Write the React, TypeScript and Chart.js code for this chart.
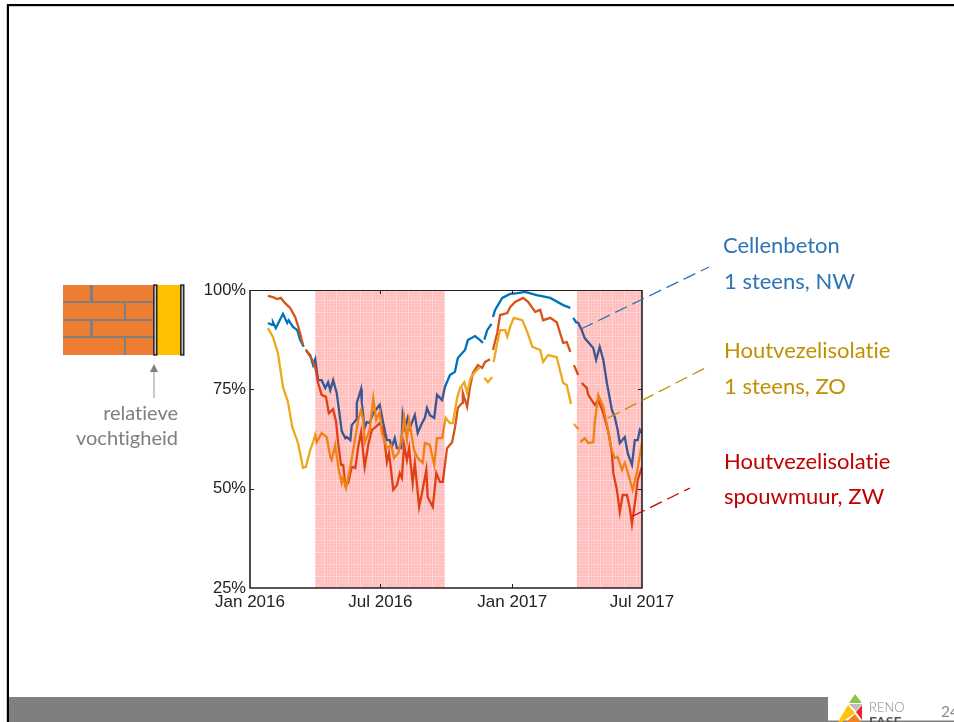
import React, { useEffect, useRef } from "react";
import { Chart, registerables } from "chart.js";

Chart.register(...registerables);

const tickDays = [0, 182, 366, 547];
const tickLabels = ["Jan 2016", "Jul 2016", "Jan 2017", "Jul 2017"];
const percentTicks = [25, 50, 75, 100];
const heatingPeriods = [[91, 272], [456, 547]];

const blueDays = [25,31,32,36,46,52,54,60,66,70,75,77,78,80,84,88,91,95,100,105,109,112,116,121,126,128,133,135,140,142,148,149,155,156,160,163,167,172,181,186,191,195,198,202,205,211,213,216,220,223,230,234,240,244,247,251,257,261,268,272,279,286,290,300,304,314,321,325,326,327,331,337,338,339,342,352,363,373,384,400,419,437,447,449,451,455,458,463,467,479,483,488,493,498,505,509,513,516,523,527,533,537,541,544,547];
const blueValues = [91.7,91.2,91.9,90.4,94,91.7,92.4,90.7,89.9,87.4,85.7,null,85,84.4,83.6,81.1,82.6,77.3,77.3,75.3,76.8,74.8,77.3,74.1,67.3,64.5,62.7,63,62.2,66,67.3,71.6,75.1,71.6,65.3,66.8,66.5,69,71.1,66.5,62.2,62.2,60.5,62.7,60.2,60.2,68.5,65.3,67.8,65.3,68.5,64,66.5,67.8,70.3,68.5,67.8,73.6,72.3,75.6,78.6,79.4,82.9,84.9,87.4,88.4,87.4,86.7,null,87.5,89.9,91.5,null,93.2,95,98,99,99.2,99.5,98.7,98,96.2,95.5,null,93,91.9,91.7,89.9,87.9,85.4,82.4,85.7,82.4,76.6,69.8,68,64.8,61.5,63,59,56,62.2,62.2,64.8,64];

const redDays = [25,32,38,43,49,56,63,68,74,77,78,81,87,91,95,100,106,110,116,120,123,127,130,133,137,142,147,151,155,158,160,165,170,174,181,186,191,194,200,205,209,212,215,219,222,227,230,236,240,246,248,255,260,265,269,275,282,286,290,296,297,303,307,311,318,324,328,335,337,339,345,349,359,363,370,381,388,398,405,409,419,428,437,442,447,449,452,458,460,463,470,472,481,486,493,500,505,507,512,516,520,526,530,533,539,541,547];
const redValues = [98.5,98.2,97.7,98,96.7,95.5,93.2,90.4,86.2,null,85,84.1,82.4,80.6,76.6,73.6,73.1,69,70,67,61.5,56,56,50.9,51.4,55.5,55.2,60.5,64.3,59,55.5,61,64.8,65.3,66.5,64.8,56.7,59,49.7,50.9,53.9,52.7,61,57.2,60.2,51.4,56.5,45.4,48.9,54.7,47.9,45.4,53.9,51.7,51.7,60.2,61.7,65.3,70.3,71.6,74.1,70.6,75.6,79.1,81.1,80.4,81.9,82.6,null,84.9,89.2,93.7,94.2,95.7,97,98,97,94.5,95,92.4,93,91.9,86.7,86.9,84.4,null,81.1,78.6,null,76.6,75.3,73.6,71.1,72.3,69,64.3,59,53.9,49.7,44.1,48.4,48.4,45.1,41.1,48.9,52.2,55.5];

const orangeDays = [25,32,39,46,53,59,67,74,78,84,88,91,93,100,107,112,114,119,123,128,130,134,140,144,151,155,158,160,167,172,176,181,184,191,197,201,207,212,215,219,222,229,234,241,244,251,257,261,268,273,279,283,289,293,299,303,308,314,321,323,327,332,338,339,340,345,349,356,359,363,368,380,387,394,405,409,416,428,437,442,448,450,452,458,460,461,467,472,479,481,486,493,500,505,509,513,519,523,527,534,540,547];
const orangeValues = [90.4,88.2,84.1,75.6,71.8,65.5,61.5,55.2,55.5,59.7,61.7,63.5,61.7,64,63,58,57.2,61,55.5,51.4,52.9,50.2,55.5,59.7,67.3,69.8,67.3,61.5,64.8,72.8,67.3,69.3,64,60.2,61,57.7,59,63,68,62.2,67.3,59.7,57.7,56.5,61.5,61,56,62.7,62.7,67.8,66.5,66.5,72.8,75.3,76.8,74.1,77.9,79.4,80.6,null,77.9,76.8,78.1,null,81.9,86.7,89.9,89.9,88.2,90.7,93,92.4,89.4,85.7,84.9,81.9,83.6,83.1,76.6,76.1,71.3,null,66.3,65,null,61.7,62.7,61.5,61.7,66.5,73.6,70.6,64.3,59.7,57.7,58,54.7,56.5,54.2,49.7,54.2,61.5];

const series = [
  { label: "Houtvezelisolatie 1 steens, ZO", days: orangeDays, values: orangeValues, color: "#EDA81C" },
  { label: "Houtvezelisolatie spouwmuur, ZW", days: redDays, values: redValues, color: "#D95319" },
  { label: "Cellenbeton 1 steens, NW", days: blueDays, values: blueValues, color: "#0072BD" },
];

function hatchPattern(ctx: CanvasRenderingContext2D) {
  const tile = document.createElement("canvas");
  tile.width = 12;
  tile.height = 12;
  const t = tile.getContext("2d")!;
  for (let y = 0; y < 12; y++) {
    for (let x = 0; x < 12; x++) {
      const major = x === 0 || y === 0;
      const minor = x % 3 === 0 || y % 3 === 0;
      t.fillStyle = major ? "rgba(255,0,0,0.16)" : minor ? "rgba(255,0,0,0.21)" : "rgba(255,0,0,0.27)";
      t.fillRect(x, y, 1, 1);
    }
  }
  return ctx.createPattern(tile, "repeat")!;
}

const overlayPlugin = {
  id: "slideOverlay",
  afterDatasetsDraw(chart: any) {
    const { ctx, chartArea: a, scales } = chart;
    const x = scales.x;
    const y = scales.y;
    ctx.save();
    ctx.fillStyle = hatchPattern(ctx);
    for (const [from, to] of heatingPeriods) {
      const l = x.getPixelForValue(from);
      const r = x.getPixelForValue(to);
      ctx.fillRect(l, a.top, r - l, a.bottom - a.top);
    }
    ctx.strokeStyle = "#222";
    ctx.lineWidth = 1;
    ctx.beginPath();
    ctx.moveTo(a.left, a.top + 0.5);
    ctx.lineTo(a.right, a.top + 0.5);
    ctx.stroke();
    ctx.lineWidth = 1.6;
    ctx.beginPath();
    ctx.moveTo(a.left, a.top);
    ctx.lineTo(a.left, a.bottom);
    ctx.lineTo(a.right, a.bottom);
    ctx.lineTo(a.right, a.top);
    ctx.stroke();
    ctx.lineWidth = 1;
    ctx.beginPath();
    for (const d of tickDays.slice(1, 3)) {
      const p = Math.round(x.getPixelForValue(d)) + 0.5;
      ctx.moveTo(p, a.bottom);
      ctx.lineTo(p, a.bottom - 4);
      ctx.moveTo(p, a.top);
      ctx.lineTo(p, a.top + 4);
    }
    for (const v of percentTicks.slice(1, 3)) {
      const p = Math.round(y.getPixelForValue(v)) + 0.5;
      ctx.moveTo(a.left, p);
      ctx.lineTo(a.left + 4, p);
      ctx.moveTo(a.right, p);
      ctx.lineTo(a.right - 4, p);
    }
    ctx.stroke();
    ctx.restore();
  },
};

export default function App() {
  const ref = useRef<HTMLCanvasElement | null>(null);
  useEffect(() => {
    const chart = new Chart(ref.current!, {
      type: "line",
      data: {
        datasets: series.map((s) => ({
          label: s.label,
          data: s.days.map((d, i) => ({ x: d, y: s.values[i] })),
          borderColor: s.color,
          borderWidth: 2.3,
          pointRadius: 0,
          tension: 0,
          spanGaps: false,
        })),
      },
      options: {
        animation: false,
        responsive: false,
        maintainAspectRatio: false,
        layout: { padding: { left: 190, top: 290, right: 312, bottom: 94 } },
        plugins: { legend: { display: false }, title: { display: false }, tooltip: { enabled: false } },
        scales: {
          x: {
            type: "linear",
            min: 0,
            max: 547,
            grid: { display: false, drawTicks: false },
            border: { display: false },
            afterBuildTicks: (s: any) => {
              s.ticks = tickDays.map((v) => ({ value: v }));
            },
            afterFit: (s: any) => {
              s.height = 40;
            },
            ticks: {
              autoSkip: false,
              maxRotation: 0,
              padding: 4,
              color: "#222",
              font: { family: "'Liberation Sans'", size: 17 },
              callback: (v: any) => tickLabels[tickDays.indexOf(v)],
            },
          },
          y: {
            min: 25,
            max: 100,
            grid: { display: false, drawTicks: false },
            border: { display: false },
            afterBuildTicks: (s: any) => {
              s.ticks = percentTicks.map((v) => ({ value: v }));
            },
            afterFit: (s: any) => {
              s.width = 60;
            },
            ticks: {
              padding: 4,
              color: "#222",
              font: { family: "'Liberation Sans'", size: 16.5 },
              callback: (v: any) => `${v}%`,
            },
          },
        },
      },
      plugins: [overlayPlugin],
    } as any);
    return () => chart.destroy();
  }, []);

  const textFont = { fontFamily: "Lato, sans-serif", fontSize: 22, style: { fontVariantLigatures: "none" as const } };
  return (
    <div style={{ position: "fixed", left: 0, top: 0, width: 954, height: 722, overflow: "hidden", background: "#fff" }}>
      <canvas ref={ref} width={954} height={722} style={{ position: "absolute", left: 0, top: 0, width: 954, height: 722 }} />
      <svg width={954} height={722} style={{ position: "absolute", left: 0, top: 0 }}>
        {/* slide frame */}
        <rect x={7} y={4} width={947} height={2.2} fill="#000" />
        <rect x={6.8} y={4} width={2.2} height={718} fill="#000" />
        <rect x={9} y={697} width={819} height={25} fill="#7F7F7F" />
        <rect x={828} y={720.5} width={126} height={1.5} fill="#7F7F7F" />

        {/* wall */}
        <rect x={63} y={285} width={90} height={70} fill="#ED7D31" />
        <g fill="#7F7F7F">
          <rect x={63} y={301} width={90} height={2} />
          <rect x={63} y={319} width={90} height={2} />
          <rect x={63} y={336} width={90} height={2} />
          <rect x={90} y={285} width={3} height={17} />
          <rect x={90} y={320} width={3} height={17} />
          <rect x={124} y={302} width={2} height={18} />
          <rect x={124} y={337} width={2} height={18} />
        </g>
        <rect x={157} y={285} width={24} height={70} fill="#FFC000" />
        <rect x={153.8} y={285} width={3} height={70} fill="#BFBFBF" stroke="#111" strokeWidth={1.3} />
        <rect x={180.8} y={285} width={3} height={70} fill="#BFBFBF" stroke="#111" strokeWidth={1.3} />
        <line x1={154} y1={398} x2={154} y2={370} stroke="#A6A6A6" strokeWidth={1.2} />
        <polygon points="150,372 158,372 154,364" fill="#7F7F7F" />
        <g {...textFont} fontSize={20} fill="#7F7F7F" textAnchor="end">
          <text x={178} y={420}>relatieve</text>
          <text x={178} y={445}>vochtigheid</text>
        </g>

        {/* leaders */}
        <line x1={581} y1={329} x2={709} y2={267} stroke="#2E75B6" strokeWidth={1.3} strokeDasharray="13 6" />
        <line x1={608} y1={418} x2={709} y2={366} stroke="#BF9000" strokeWidth={1.3} strokeDasharray="13 6" />
        <line x1={633} y1={516} x2={690} y2={488} stroke="#C00000" strokeWidth={1.3} strokeDasharray="13 6" />

        {/* labels */}
        <g {...textFont}>
          <text x={723} y={253} fill="#2E75B6">Cellenbeton</text>
          <text x={724} y={289} fill="#2E75B6">1 steens, NW</text>
          <text x={724} y={358} fill="#BF9000">Houtvezelisolatie</text>
          <text x={724} y={394} fill="#BF9000">1 steens, ZO</text>
          <text x={724} y={469} fill="#C00000">Houtvezelisolatie</text>
          <text x={724} y={504} fill="#C00000">spouwmuur, ZW</text>
        </g>

        {/* logo */}
        <polygon points="855,694 862,703 849,703" fill="#8DC63F" />
        <polygon points="849,704 862,704 856,711" fill="#BDBDBD" />
        <polygon points="848,705 855,713 842,722 838,722" fill="#FFC20E" />
        <polygon points="862,705 862,720 856,712" fill="#E8262A" />
        <polygon points="846,722 855,714 861,722" fill="#F58220" />
        <text x={869} y={712} fill="#8A8A8A" fontFamily="Lato, sans-serif" fontWeight={300} fontSize={13}>RENO</text>
        <text x={869} y={727} fill="#555" fontFamily="Lato, sans-serif" fontWeight={700} fontSize={14}>FASE</text>
        <text x={941} y={717} fill="#8A8A8A" fontFamily="Lato, sans-serif" fontSize={15.5}>24</text>
      </svg>
    </div>
  );
}
